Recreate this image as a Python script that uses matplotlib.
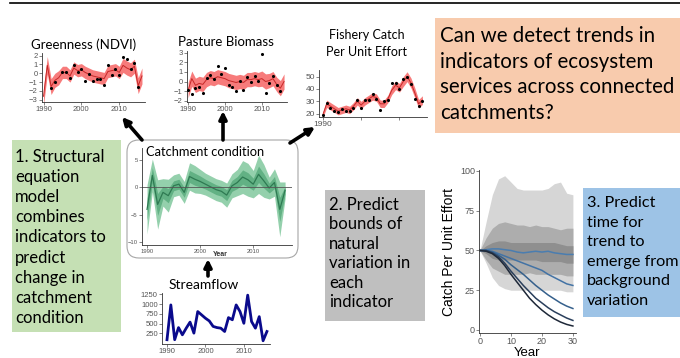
import numpy as np
import matplotlib.pyplot as plt
from matplotlib.patches import FancyBboxPatch, Rectangle

W, H = 680, 358

# ---- data ----
years = np.arange(1990, 2017)

ndvi_fit = [-2.6, 0.9, -1.5, -0.8, -0.5, 0.1, 0.1, -0.3, 0.6, 0.3, 0.4, 0.1, -0.1, -0.3,
            -0.4, -0.5, -0.6, 0.2, 0.3, 0.4, 0.1, 0.9, 0.6, 0.4, 0.8, -1.4, -0.3]
ndvi_obs = [np.nan, np.nan, -1.7, -1.0, np.nan, 0.2, 0.2, -0.5, 0.9, 0.2, 0.5, -0.9, -0.1, -0.9,
            -0.6, -0.6, -1.3, 0.9, -0.2, 0.5, -0.2, 1.9, 1.6, 0.5, 1.2, -1.6, np.nan]
ndvi_band = [1.0, 1.0, 0.9, 0.8, 0.8, 0.7, 0.7, 0.7, 0.7, 0.7, 0.7, 0.7, 0.7, 0.7,
             0.7, 0.7, 0.7, 0.7, 0.7, 0.7, 0.7, 0.8, 0.8, 0.8, 0.8, 0.9, 0.9]

pasture_fit = [-0.9, 0.3, -0.4, -0.2, -0.3, 0.2, 0.4, 0.3, 0.5, 0.4, 0.3, 0.1, 0.0, -0.1,
               0.0, -0.1, 0.2, 0.2, 0.3, 0.2, 0.3, 0.0, 0.1, 0.3, -0.3, -0.7, 0.0]
pasture_obs = [-0.9, -1.3, -0.7, -0.6, -1.2, 0.35, 0.7, 0.3, 1.6, 0.8, 1.45, -0.4, -0.6, -1.0,
               0.1, -0.9, 0.5, -0.1, 0.6, 0.1, 2.9, -1.2, -0.2, 0.6, -0.4, -1.0, np.nan]
pasture_band = [0.8, 0.8, 0.75, 0.75, 0.75, 0.75, 0.75, 0.75, 0.75, 0.75, 0.75, 0.75, 0.75, 0.75,
                0.75, 0.75, 0.75, 0.75, 0.75, 0.75, 0.8, 0.8, 0.75, 0.75, 0.75, 0.8, 0.8]

cpue_fit = [19, 28, 26, 24, 22, 23, 24, 23, 26, 30, 27, 30, 32, 34,
            33, 28, 28, 32, 39, 43, 41, 46, 50, 45, 37, 28, 31]
cpue_obs = [19, 29, 25, 22, 21, 24, 22, 22, 25, 31, 25, 31, 31, 36,
            32, 23, 30, 31, 45, 45, 40, 48, 50, 44, 32, 26, 30]
cpue_band = [2.5, 3, 3, 3, 3, 3, 3, 3, 3, 3, 3, 3, 3, 3,
             3, 3, 3, 3, 3.5, 3.5, 3.5, 4, 4, 4, 4, 3.5, 3.5]

cond_fit = [-4.0, 2.2, -3.1, -0.9, -1.5, 0.3, 0.6, -0.9, 2.0, 1.5, 1.1, 0.6, 0.1, -0.4,
            -0.7, -1.4, 0.3, 0.9, 1.9, 1.4, 0.6, 2.4, 1.2, -0.1, 0.9, -4.0, -0.5]
cond_outer = [4.5, 3.0, 4.5, 2.5, 3.0, 2.0, 2.0, 2.0, 2.5, 2.5, 2.2, 2.0, 2.0, 2.0,
              2.0, 2.2, 2.2, 2.4, 3.0, 3.0, 2.5, 3.5, 3.0, 2.0, 2.5, 5.0, 1.5]
cond_inner = [2.0, 1.4, 2.0, 1.1, 1.3, 0.9, 0.9, 0.9, 1.1, 1.1, 1.0, 0.9, 0.9, 0.9,
              0.9, 1.0, 1.0, 1.1, 1.3, 1.3, 1.1, 1.5, 1.3, 0.9, 1.1, 2.2, 0.7]

streamflow = [90, 980, 90, 400, 215, 385, 540, 258, 810, 725, 640, 570, 430, 400,
              385, 300, 655, 600, 980, 810, 510, 1230, 555, 385, 680, 63, 300]

sim_year = np.arange(0, 31, 2)
outer_hi = [50, 68, 85, 95, 97, 93, 89, 88, 88, 88, 88, 89, 92, 93, 86, 85]
outer_lo = [50, 42, 33, 28, 26, 25, 25, 25, 25, 25, 25, 25, 25, 25, 24, 24]
mid_hi = [50, 58, 64, 67, 68, 67, 66, 66, 65, 66, 65, 65, 64, 63, 64, 64]
mid_lo = [50, 44, 39, 37, 35, 35, 35, 35, 36, 35, 35, 35, 35, 35, 34, 34]
inner_hi = [50, 53, 55, 56, 56, 55, 55, 55, 55, 55, 55, 55, 55, 54, 53, 53]
inner_lo = [50, 48, 45, 44, 44, 44, 44, 44, 44, 44, 43, 43, 43, 43, 42, 42]
trend_lines = [
    [50, 50.5, 51, 51, 50.5, 50, 49, 48.5, 49, 49.5, 49, 49.5, 48.5, 48, 47.5, 47.5],
    [50, 50, 49.5, 48, 46.5, 45, 43.5, 42, 40.5, 39, 37.5, 35, 33, 31, 29, 28],
    [50, 50, 49, 47, 44.5, 41, 38, 35, 31.5, 28, 25, 22, 19.5, 17, 15, 13.5],
    [50, 50, 48.5, 46, 42, 37, 32.5, 28, 24, 20, 17, 14, 11.5, 9.5, 7.5, 6],
    [50, 49.5, 48, 45, 40.5, 35, 30, 25, 20, 16, 12.5, 9.5, 7, 5, 3.5, 2.5],
]
trend_colors = ['#4A7DB0', '#4373A5', '#35608C', '#2A3F5C', '#1E2838']

box1_lines = ['1. Structural', 'equation', 'model', 'combines', 'indicators to',
              'predict', 'change in', 'catchment', 'condition']
box2_lines = ['2. Predict', 'bounds of', 'natural', 'variation in', 'each', 'indicator']
box3_lines = ['3. Predict', 'time for', 'trend to', 'emerge from', 'background', 'variation']
question_lines = ['Can we detect trends in', 'indicators of ecosystem',
                  'services across connected', 'catchments?']

BOX_FONT = ['Lato', 'DejaVu Sans']
TICK_FONT = ['Liberation Sans', 'DejaVu Sans']

fig = plt.figure(figsize=(6.8, 3.58), dpi=100)


def px_axes(left, top, right, bottom):
    return fig.add_axes([left / W, 1 - bottom / H, (right - left) / W, (bottom - top) / H])


def style_small(ax, fs=5.5):
    for s in ['top', 'right']:
        ax.spines[s].set_visible(False)
    for s in ['left', 'bottom']:
        ax.spines[s].set_color('#333333')
        ax.spines[s].set_linewidth(0.6)
    ax.tick_params(labelsize=fs, colors='#555555', length=2, width=0.5, pad=1)
    for lab in ax.get_xticklabels() + ax.get_yticklabels():
        lab.set_family(TICK_FONT)
    ax.patch.set_alpha(0)


# full-figure canvas for boxes, text and arrows
canvas = px_axes(0, 0, W, H)
canvas.set_xlim(0, W)
canvas.set_ylim(H, 0)
canvas.axis('off')

canvas.plot([10, W], [3, 3], color='black', lw=1.2)

# text boxes
def text_box(x0, y0, x1, y1, color, lines, tx, ty, dy, fs):
    canvas.add_patch(Rectangle((x0, y0), x1 - x0, y1 - y0, fc=color, ec='none'))
    for k, line in enumerate(lines):
        canvas.text(tx, ty + k * dy, line, fontsize=fs, family=BOX_FONT,
                    va='center', ha='left', color='black')

text_box(435, 18, W, 133, '#F8CBAD', question_lines, 440, 36, 25.7, 14.8)
text_box(12, 140, 121, 332, '#C5E0B4', box1_lines, 15, 157, 20.1, 12)
text_box(325, 190, 425, 321, '#BFBFBF', box2_lines, 329, 205, 19.4, 12)
text_box(583, 188, W, 317, '#9DC3E6', box3_lines, 587, 203, 19.6, 11.7)

# rounded box around catchment condition
canvas.add_patch(FancyBboxPatch((127, 140), 171, 118,
                                boxstyle='round,pad=0,rounding_size=12',
                                fc='white', ec='#A6A6A6', lw=0.8))

# titles
canvas.text(84, 45, 'Greenness (NDVI)', fontsize=9.5, family=BOX_FONT, ha='center', va='center')
canvas.text(226, 42, 'Pasture Biomass', fontsize=9.5, family=BOX_FONT, ha='center', va='center')
canvas.text(367, 35, 'Fishery Catch', fontsize=9, family=BOX_FONT, ha='center', va='center')
canvas.text(367, 52, 'Per Unit Effort', fontsize=9, family=BOX_FONT, ha='center', va='center')
canvas.text(146, 152, 'Catchment condition', fontsize=9.3, family=BOX_FONT, ha='left', va='center')
canvas.text(204, 285, 'Streamflow', fontsize=10, family=BOX_FONT, ha='center', va='center')
canvas.text(220, 254, 'Year', fontsize=5, family=TICK_FONT, ha='center', va='center',
            color='#333333', weight='bold')

# arrows
arrow_kw = dict(arrowstyle='-|>', lw=2.6, color='black', mutation_scale=11,
                shrinkA=0, shrinkB=0)
canvas.annotate('', xy=(122, 117), xytext=(142, 140), arrowprops=arrow_kw)
canvas.annotate('', xy=(223, 111), xytext=(223, 140), arrowprops=arrow_kw)
canvas.annotate('', xy=(315, 127), xytext=(290, 143), arrowprops=arrow_kw)
canvas.annotate('', xy=(208, 259), xytext=(208, 276), arrowprops=arrow_kw)

RED_BAND = '#F77B7B'
RED_LINE = '#C62828'

# Greenness
ax = px_axes(42, 53, 145, 102)
lo = np.array(ndvi_fit) - np.array(ndvi_band)
hi = np.array(ndvi_fit) + np.array(ndvi_band)
ax.fill_between(years, lo, hi, color=RED_BAND, lw=0)
ax.plot(years, ndvi_fit, color=RED_LINE, lw=0.7)
ax.scatter(years, ndvi_obs, s=5, color='black', zorder=3, lw=0)
ax.set_xlim(1989.6, 2016.8)
ax.set_ylim(-3.25, 2.3)
ax.set_yticks([-3, -2, -1, 0, 1, 2])
ax.set_xticks([1990, 2000, 2010])
style_small(ax)

# Pasture biomass
ax = px_axes(187, 51, 287, 102)
lo = np.array(pasture_fit) - np.array(pasture_band)
hi = np.array(pasture_fit) + np.array(pasture_band)
ax.fill_between(years, lo, hi, color=RED_BAND, lw=0)
ax.plot(years, pasture_fit, color=RED_LINE, lw=0.7)
ax.scatter(years, pasture_obs, s=5, color='black', zorder=3, lw=0)
ax.set_xlim(1989.7, 2016.8)
ax.set_ylim(-2.15, 3.2)
ax.set_yticks([-2, -1, 0, 1, 2, 3])
ax.set_xticks([1990, 2000, 2010])
style_small(ax)

# Fishery CPUE
ax = px_axes(319, 70, 427, 117)
lo = np.array(cpue_fit) - np.array(cpue_band)
hi = np.array(cpue_fit) + np.array(cpue_band)
ax.fill_between(years, lo, hi, color=RED_BAND, lw=0)
ax.plot(years, cpue_fit, color=RED_LINE, lw=0.7)
ax.scatter(years, cpue_obs, s=5, color='black', zorder=3, lw=0)
ax.set_xlim(1989.0, 2017.2)
ax.set_ylim(17.3, 55.4)
ax.set_yticks([20, 30, 40, 50])
ax.set_xticks([1990, 2000, 2010])
ax.set_xticklabels(['1990', '', ''])
style_small(ax, fs=6)

# Catchment condition
ax = px_axes(142, 148, 292, 245)
fit = np.array(cond_fit)
ax.fill_between(years, fit - np.array(cond_outer), fit + np.array(cond_outer),
                color='#94D0AC', lw=0)
ax.fill_between(years, fit - np.array(cond_inner), fit + np.array(cond_inner),
                color='#62B184', lw=0)
ax.plot(years, fit, color='#2E7A52', lw=0.9)
ax.axhline(0, color='#555555', lw=0.6)
ax.set_xlim(1989.05, 2017.3)
ax.set_ylim(-10.5, 7.2)
ax.set_yticks([-10, -5, 0, 5])
ax.set_xticks([1990, 2000, 2010])
style_small(ax, fs=4.2)

# Streamflow
ax = px_axes(162, 293, 270, 344)
ax.plot(years, streamflow, color='#0A0A8C', lw=2.0)
ax.set_xlim(1988.7, 2016.8)
ax.set_ylim(-20, 1285)
ax.set_yticks([250, 500, 750, 1000, 1250])
ax.set_xticks([1990, 2000, 2010])
style_small(ax, fs=5.5)

# Simulated CPUE trends
ax = px_axes(479, 170, 576, 333)
ax.fill_between(sim_year, outer_lo, outer_hi, color='#D6D6D6', lw=0)
ax.fill_between(sim_year, mid_lo, mid_hi, color='#ADADAD', lw=0)
ax.fill_between(sim_year, inner_lo, inner_hi, color='#8F8F8F', lw=0)
for vals, col in zip(trend_lines, trend_colors):
    ax.plot(sim_year, vals, color=col, lw=1.1)
ax.set_xlim(-0.3, 31)
ax.set_ylim(-1.9, 100.6)
ax.set_yticks([0, 25, 50, 75, 100])
ax.set_xticks([0, 10, 20, 30])
style_small(ax, fs=6.5)
ax.set_ylabel('Catch Per Unit Effort', fontsize=10, family=TICK_FONT, labelpad=3)
canvas.text(527, 353, 'Year', fontsize=9.5, family=TICK_FONT, ha='center', va='center')

fig.savefig('out.png', dpi=100)
